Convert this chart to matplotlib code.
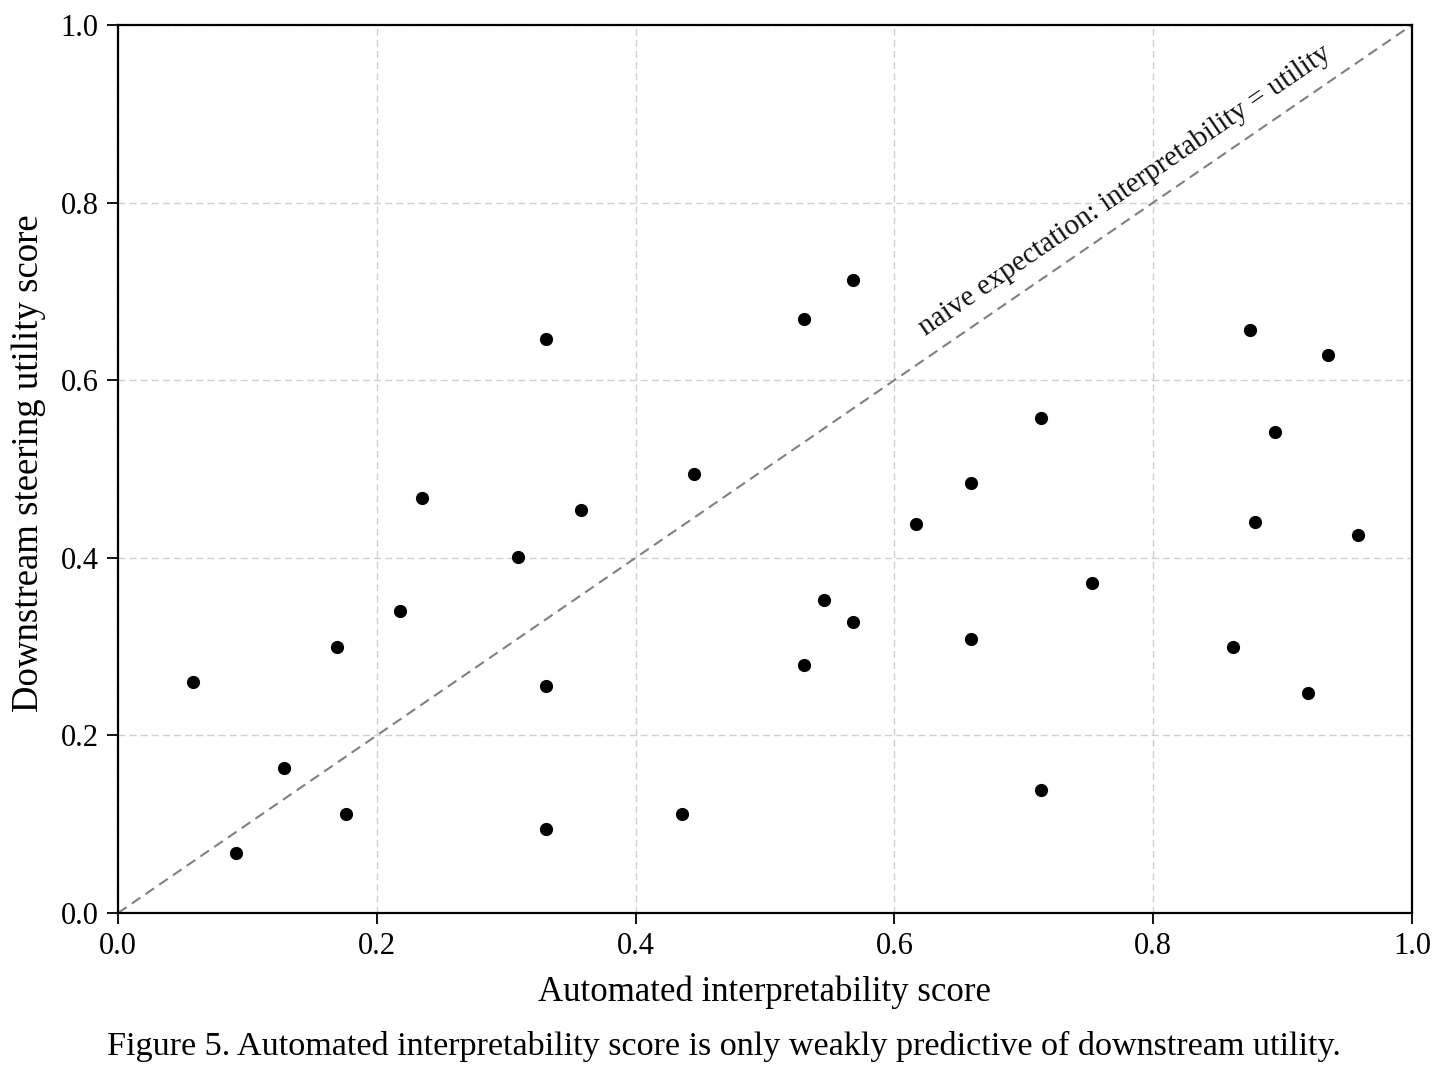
import matplotlib
matplotlib.use("Agg")
import matplotlib.pyplot as plt
import numpy as np

plt.rcParams['font.family'] = ['Liberation Serif', 'DejaVu Serif']

# data
interp_score = [0.058, 0.091, 0.128, 0.169, 0.176, 0.218, 0.235, 0.309,
                0.331, 0.331, 0.331, 0.358, 0.436, 0.445, 0.530, 0.530,
                0.546, 0.568, 0.568, 0.617, 0.659, 0.659, 0.713, 0.713,
                0.753, 0.862, 0.875, 0.879, 0.894, 0.920, 0.935, 0.958]
utility_score = [0.260, 0.068, 0.163, 0.300, 0.111, 0.340, 0.467, 0.401,
                 0.646, 0.256, 0.095, 0.454, 0.111, 0.494, 0.669, 0.279,
                 0.353, 0.713, 0.328, 0.438, 0.484, 0.309, 0.557, 0.138,
                 0.372, 0.300, 0.656, 0.440, 0.542, 0.248, 0.628, 0.426]
ticks = [0.0, 0.2, 0.4, 0.6, 0.8, 1.0]

fig = plt.figure(figsize=(14.48, 10.86), dpi=100)
ax = fig.add_axes([0.0815, 0.1593, 0.8936, 0.8177])

ax.plot([0, 1], [0, 1], linestyle='--', color='#808080', linewidth=1.5,
        dashes=(5, 3), zorder=2)
ax.scatter(interp_score, utility_score, s=72, color='black', zorder=3)

ax.set_xlim(0, 1)
ax.set_ylim(0, 1)
ax.set_xticks(ticks)
ax.set_yticks(ticks)
ax.set_xticklabels([f"{t:.1f}" for t in ticks])
ax.set_yticklabels([f"{t:.1f}" for t in ticks])
ax.tick_params(axis='both', labelsize=22, length=8, width=1.3, direction='out', pad=6)
ax.grid(True, linestyle='--', color='#d0d0d0', linewidth=1.0, dashes=(5, 3))
ax.set_axisbelow(True)
for sp in ax.spines.values():
    sp.set_linewidth(1.6)

ax.set_xlabel("Automated interpretability score", fontsize=25, labelpad=10)
ax.set_ylabel("Downstream steering utility score", fontsize=26.5)
ax.yaxis.set_label_coords(-0.056, 0.506)

# label along the diagonal, rotated to match its screen angle
p0 = ax.transData.transform((0, 0))
p1 = ax.transData.transform((1, 1))
angle = np.degrees(np.arctan2(p1[1] - p0[1], p1[0] - p0[0]))
ax.text(0.778, 0.813, "naive expectation: interpretability = utility",
        fontsize=21, rotation=angle, rotation_mode='anchor',
        ha='center', va='center', color='#111111')

fig.text(0.5, 0.036, "Figure 5. Automated interpretability score is only weakly predictive of downstream utility.",
         ha='center', va='center', fontsize=24.6)

fig.savefig("out.png", dpi=100, facecolor='white')
